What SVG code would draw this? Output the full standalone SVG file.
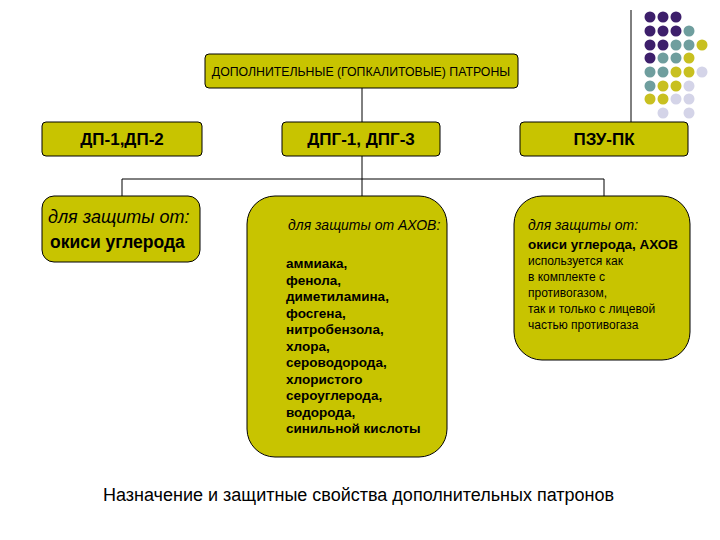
<svg xmlns="http://www.w3.org/2000/svg" width="720" height="540" viewBox="0 0 720 540">
<style>
.b{fill:#c8c400;stroke:#000;stroke-width:1}
.c{stroke:#000;stroke-width:1;fill:none}
text{font-family:"Liberation Sans",Arial,sans-serif;fill:#000}
.h{font-size:17px;font-weight:bold;text-anchor:middle}
.i{font-size:14px;font-style:italic}
.l{font-size:13.5px;font-weight:bold}
.n{font-size:12px}
.P{fill:#3d1f6b}.T{fill:#6f9e9e}.Y{fill:#c8c020}.L{fill:#d4d4e8}
</style>
<rect width="720" height="540" fill="#fff"/>
<g id="connectors">
<line class="c" x1="362" y1="88" x2="362" y2="122"/>
<line class="c" x1="362" y1="156" x2="362" y2="179"/>
<polyline class="c" points="122,196 122,179 604,179 604,196"/>
<line class="c" x1="362" y1="179" x2="362" y2="196"/>
<line class="c" x1="631" y1="10" x2="631" y2="122"/>
</g>
<g id="top"><rect class="b" x="205" y="54" width="313" height="34" rx="4"/>
<text x="361" y="76" font-size="12.3" text-anchor="middle">ДОПОЛНИТЕЛЬНЫЕ (ГОПКАЛИТОВЫЕ) ПАТРОНЫ</text></g>
<g id="dp"><rect class="b" x="42" y="122" width="160" height="34" rx="4"/><text class="h" x="122" y="145">ДП-1,ДП-2</text></g>
<g id="dpg"><rect class="b" x="282" y="122" width="158" height="34" rx="4"/><text class="h" x="361" y="145">ДПГ-1, ДПГ-3</text></g>
<g id="pzu"><rect class="b" x="520" y="122" width="168" height="34" rx="4"/><text class="h" x="604" y="145">ПЗУ-ПК</text></g>
<g id="b1"><rect class="b" x="42" y="196" width="158" height="66" rx="12"/>
<text x="48" y="223" font-size="18" font-style="italic">для защиты от:</text><text x="50" y="248" font-size="17.5" font-weight="bold">окиси углерода</text></g>
<g id="b2"><rect class="b" x="247" y="196" width="200" height="261" rx="28"/>
<text class="i" x="288" y="230">для защиты от АХОВ:</text>
<text class="l"><tspan x="286" y="268">аммиака,</tspan><tspan x="286" dy="16.5">фенола,</tspan><tspan x="286" dy="16.5">диметиламина,</tspan><tspan x="286" dy="16.5">фосгена,</tspan><tspan x="286" dy="16.5">нитробензола,</tspan><tspan x="286" dy="16.5">хлора,</tspan><tspan x="286" dy="16.5">сероводорода,</tspan><tspan x="286" dy="16.5">хлористого</tspan><tspan x="286" dy="16.5">сероуглерода,</tspan><tspan x="286" dy="16.5">водорода,</tspan><tspan x="286" dy="16.5">синильной кислоты</tspan></text></g>
<g id="b3"><rect class="b" x="514" y="196" width="176" height="164" rx="28"/>
<text class="i" x="528" y="230">для защиты от:</text>
<text class="l" x="528" y="249" font-size="12.5">окиси углерода, АХОВ</text>
<text class="n"><tspan x="528" y="265">используется как</tspan><tspan x="528" dy="16">в комплекте с</tspan><tspan x="528" dy="16">противогазом,</tspan><tspan x="528" dy="16">так и только с лицевой</tspan><tspan x="528" dy="16">частью противогаза</tspan></text></g>
<text x="103" y="501" font-size="18">Назначение и защитные свойства дополнительных патронов</text>
<g id="dots">
<circle class="P" cx="650" cy="17" r="5.5"/><circle class="P" cx="663" cy="17" r="5.5"/><circle class="P" cx="676" cy="17" r="5.5"/>
<circle class="P" cx="650" cy="31" r="5.5"/><circle class="P" cx="663" cy="31" r="5.5"/><circle class="P" cx="676" cy="31" r="5.5"/><circle class="T" cx="689" cy="31" r="5.5"/>
<circle class="P" cx="650" cy="45" r="5.5"/><circle class="P" cx="663" cy="45" r="5.5"/><circle class="T" cx="676" cy="45" r="5.5"/><circle class="T" cx="689" cy="45" r="5.5"/><circle class="Y" cx="702" cy="45" r="5.5"/>
<circle class="P" cx="650" cy="58" r="5.5"/><circle class="T" cx="663" cy="58" r="5.5"/><circle class="T" cx="676" cy="58" r="5.5"/><circle class="Y" cx="689" cy="58" r="5.5"/>
<circle class="T" cx="650" cy="72" r="5.5"/><circle class="T" cx="663" cy="72" r="5.5"/><circle class="Y" cx="676" cy="72" r="5.5"/><circle class="Y" cx="689" cy="72" r="5.5"/><circle class="L" cx="702" cy="72" r="5.5"/>
<circle class="T" cx="650" cy="86" r="5.5"/><circle class="Y" cx="663" cy="86" r="5.5"/><circle class="Y" cx="676" cy="86" r="5.5"/><circle class="L" cx="689" cy="86" r="5.5"/>
<circle class="Y" cx="650" cy="99" r="5.5"/><circle class="Y" cx="663" cy="99" r="5.5"/><circle class="L" cx="676" cy="99" r="5.5"/><circle class="L" cx="689" cy="99" r="5.5"/>
<circle class="L" cx="663" cy="113" r="5.5"/><circle class="L" cx="689" cy="113" r="5.5"/>
</g>
</svg>
